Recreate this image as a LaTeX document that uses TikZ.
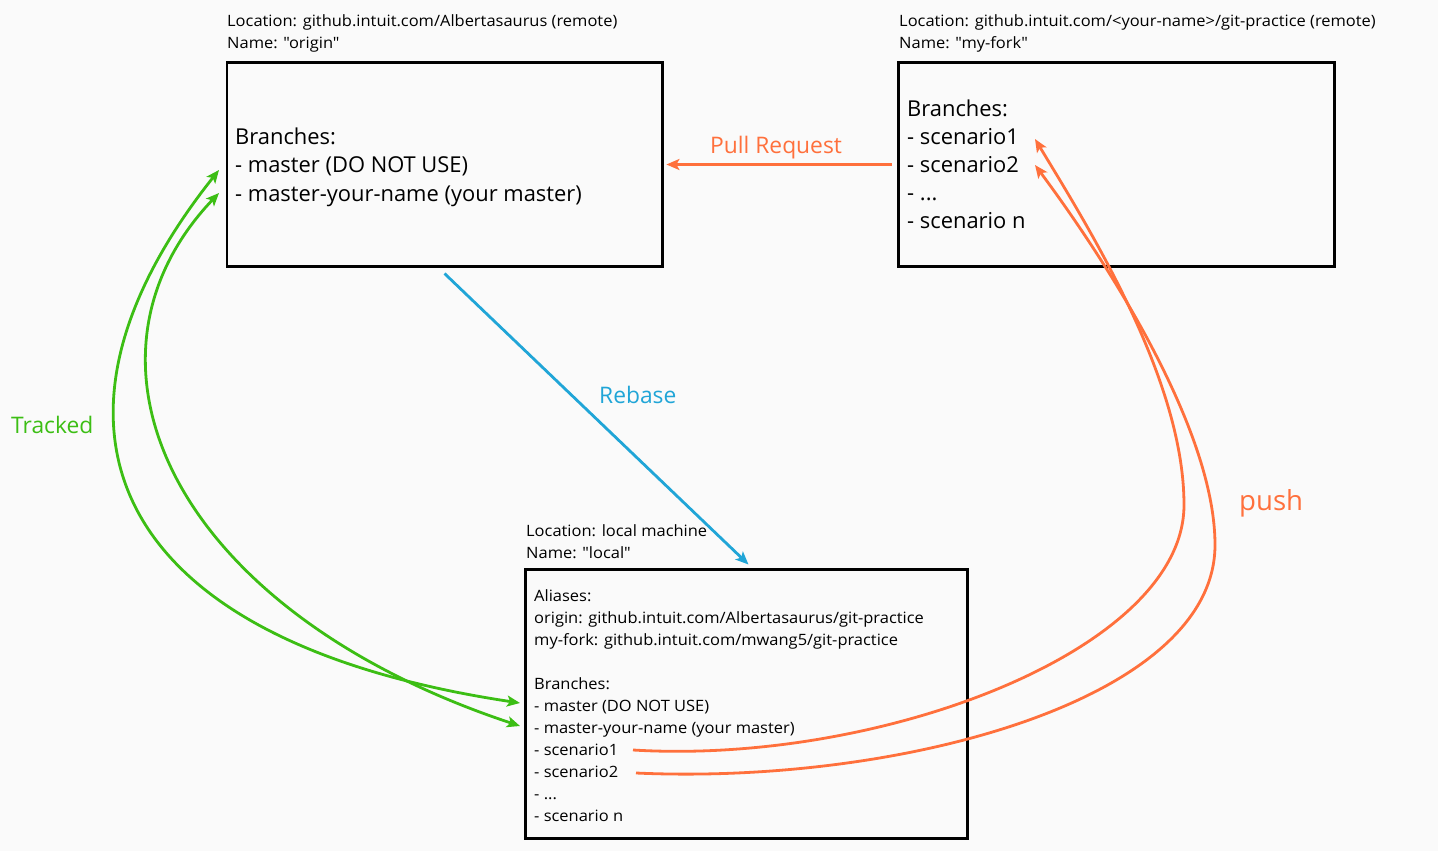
\documentclass[tikz,border=0pt]{standalone}
\usepackage{fontspec}
\setmainfont{Open Sans}[Ligatures=TeXOff]
\newfontfamily\smallfam{Open Sans}[Ligatures=TeXOff, FakeStretch=1.055]
\usetikzlibrary{arrows.meta}
\definecolor{bgc}{HTML}{FAFAFA}
\definecolor{cOrange}{HTML}{FF703C}
\definecolor{cGreen}{HTML}{3CBE14}
\definecolor{cBlue}{HTML}{20A5D7}
\begin{document}
\begin{tikzpicture}[x=1pt,y=-1pt,
  repo/.style={draw=black, line width=2.8pt, rectangle, inner sep=0pt},
  smalltxt/.style={anchor=north west, inner sep=0pt, align=left, font=\smallfam\fontsize{15.6}{22}\selectfont},
  bigtxt/.style={anchor=north west, inner sep=0pt, align=left, font=\fontsize{21.9}{28.6}\selectfont},
  lbl/.style={anchor=base west, inner sep=0pt, font=\fontsize{22.8}{26}\selectfont},
  tip/.style={-{Stealth[length=13pt,width=11pt,inset=3pt]}},
  tips/.style={{Stealth[length=13pt,width=11pt,inset=3pt]}-{Stealth[length=13pt,width=11pt,inset=3pt]}},
  pushline/.style={draw=cOrange, line width=2.8pt},
  trackline/.style={draw=cGreen, line width=2.8pt},
  rebaseline/.style={draw=cBlue, line width=2.8pt}]
\fill[bgc] (0,0) rectangle (1438,851);
\useasboundingbox (0,0) rectangle (1438,851);

% repository boxes
\node[repo, minimum width=435.5pt, minimum height=204pt] (origin) at (444.75,164.5) {};
\node[repo, minimum width=436pt, minimum height=204pt] (fork) at (1116.3,164.5) {};
\node[repo, minimum width=441.6pt, minimum height=269pt] (local) at (746.5,703.8) {};

% labels above boxes
\node[smalltxt] (originlbl) at (227,11.7) {\rule{0pt}{15pt}Location: github.intuit.com/Albertasaurus (remote)\\Name: "origin"};
\node[smalltxt] (forklbl) at (899,11.7) {\rule{0pt}{15pt}Location: github.intuit.com/<your-name>/git-practice (remote)\\Name: "my-fork"};
\node[smalltxt] (locallbl) at (526,521.7) {\rule{0pt}{15pt}Location: local machine\\Name: "local"};

% box contents
\node[bigtxt] (origintxt) at (235,124) {\rule{0pt}{20pt}Branches:\\- master (DO NOT USE)\\- master-your-name (your master)};
\node[bigtxt, font=\fontsize{21.9}{28}\selectfont] (forktxt) at (907,96) {\rule{0pt}{20pt}Branches:\\- scenario1\\- scenario2\\- ...\\- scenario n};
\node[smalltxt] (localtxt) at (534,586) {\rule{0pt}{15pt}Aliases:\\origin: github.intuit.com/Albertasaurus/git-practice\\my-fork: github.intuit.com/mwang5/git-practice\\[22pt]Branches:\\- master (DO NOT USE)\\- master-your-name (your master)\\- scenario1\\- scenario2\\- ...\\- scenario n};

% connector end points
\coordinate (oMaster) at (219,170);
\coordinate (oMine) at (219,193);
\coordinate (lMaster) at (520,703);
\coordinate (lMine) at (520,726);
\coordinate (lS1) at (633,750);
\coordinate (lS2) at (636,773);
\coordinate (fS1) at (1035,139);
\coordinate (fS2) at (1035,165);
\coordinate (rbS) at (444.5,273.5);
\coordinate (rbE) at (748.5,564.5);

% pull request
\draw[pushline, tip, shorten <=5pt, shorten >=2.5pt] (fork.west) -- (origin.east);
\node[lbl, text=cOrange] (prlbl) at (710,153.3) {Pull Request};

% rebase
\draw[rebaseline, tip] (rbS) -- (rbE);
\node[lbl, text=cBlue] (rblbl) at (599,403) {Rebase};

% tracked
\draw[trackline, tips] (oMaster) .. controls (20,420) and (100,640) .. (lMaster);
\draw[trackline, tips] (oMine) .. controls (60,360) and (170,610) .. (lMine);
\node[lbl, text=cGreen] (trlbl) at (11,433) {Tracked};

% push
\draw[pushline, tip] (lS1) .. controls (880,765) and (1184,650) .. (1184,505) .. controls (1184,380) and (1090,230) .. (fS1);
\draw[pushline, tip] (lS2) .. controls (900,785) and (1215,700) .. (1215,545) .. controls (1215,420) and (1090,239) .. (fS2);
\node[lbl, text=cOrange, font=\fontsize{27.6}{32}\selectfont] (pushlbl) at (1239,510) {push};
\end{tikzpicture}
\end{document}
